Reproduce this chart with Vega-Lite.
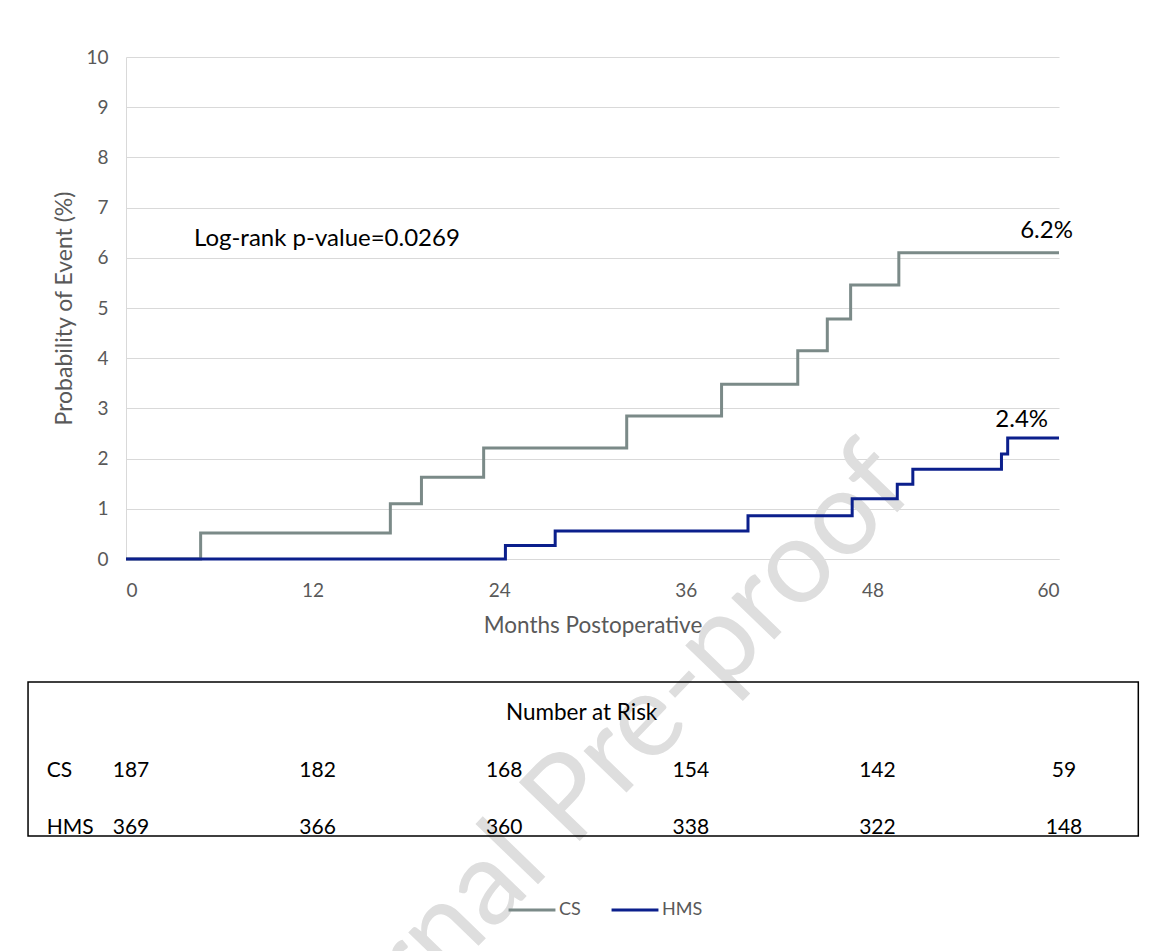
{
  "$schema": "https://vega.github.io/schema/vega-lite/v6.json",
  "padding": {"left": 27, "top": 48, "right": 10, "bottom": 10},
  "background": "white",
  "config": {
    "font": "Lato",
    "view": {"stroke": null},
    "axis": {"labelFont": "Lato", "titleFont": "Lato", "labelColor": "#595959", "titleColor": "#595959", "titleFontWeight": "normal"},
    "legend": {"labelFont": "Lato", "labelColor": "#595959"}
  },
  "bounds": "flush",
  "spacing": 123,
  "resolve": {"scale": {"x": "independent", "y": "independent"}},
  "vconcat": [
    {
      "width": 933,
      "height": 502,
      "layer": [
        {
          "data": {"values": [{"wm": "Journal Pre-proof"}]},
          "mark": {"type": "text", "align": "right", "baseline": "alphabetic", "angle": -46, "fontSize": 118, "color": "#dedede"},
          "encoding": {
            "x": {"datum": 50.9, "type": "quantitative"},
            "y": {"datum": 1.35, "type": "quantitative"},
            "text": {"field": "wm"}
          }
        },
        {
          "data": {"values": [
            {"group": "CS", "month": 0, "prob": 0},
            {"group": "CS", "month": 4.8, "prob": 0.52},
            {"group": "CS", "month": 17, "prob": 1.1},
            {"group": "CS", "month": 19, "prob": 1.63},
            {"group": "CS", "month": 23, "prob": 2.21},
            {"group": "CS", "month": 32.2, "prob": 2.85},
            {"group": "CS", "month": 38.3, "prob": 3.48},
            {"group": "CS", "month": 43.2, "prob": 4.15},
            {"group": "CS", "month": 45.1, "prob": 4.78},
            {"group": "CS", "month": 46.6, "prob": 5.46},
            {"group": "CS", "month": 49.7, "prob": 6.1},
            {"group": "CS", "month": 60, "prob": 6.1},
            {"group": "HMS", "month": 0, "prob": 0},
            {"group": "HMS", "month": 24.4, "prob": 0.27},
            {"group": "HMS", "month": 27.6, "prob": 0.56},
            {"group": "HMS", "month": 40, "prob": 0.86},
            {"group": "HMS", "month": 46.7, "prob": 1.2},
            {"group": "HMS", "month": 49.6, "prob": 1.49},
            {"group": "HMS", "month": 50.6, "prob": 1.79},
            {"group": "HMS", "month": 56.3, "prob": 2.09},
            {"group": "HMS", "month": 56.7, "prob": 2.41},
            {"group": "HMS", "month": 60, "prob": 2.41}
          ]},
          "mark": {"type": "line", "interpolate": "step-after", "strokeWidth": 3},
          "encoding": {
            "x": {
              "field": "month", "type": "quantitative",
              "scale": {"domain": [0, 60], "nice": false},
              "axis": {
                "values": [0, 12, 24, 36, 48, 60], "grid": false, "ticks": false,
                "domainColor": "#d9d9d9", "labelFontSize": 19, "labelPadding": 22,
                "title": "Months Postoperative", "titleFontSize": 22.5, "titlePadding": 14
              }
            },
            "y": {
              "field": "prob", "type": "quantitative",
              "scale": {"domain": [0, 10], "nice": false},
              "axis": {
                "values": [0, 1, 2, 3, 4, 5, 6, 7, 8, 9, 10], "grid": true, "gridColor": "#d9d9d9",
                "ticks": false, "domainColor": "#d9d9d9", "labelFontSize": 19, "labelPadding": 18,
                "title": "Probability of Event (%)", "titleFontSize": 23, "titlePadding": 9
              }
            },
            "color": {
              "field": "group", "type": "nominal",
              "scale": {"domain": ["CS", "HMS"], "range": ["#7b8a88", "#0b1f8c"]},
              "legend": {
                "title": null, "orient": "none", "legendX": 381, "legendY": 828, "direction": "horizontal",
                "symbolType": "stroke", "symbolStrokeWidth": 3, "symbolSize": 2200,
                "labelFontSize": 18, "labelOffset": 2, "columnPadding": 24
              }
            },
            "order": {"field": "month", "type": "quantitative"}
          }
        },
        {
          "data": {"values": [{"month": 4.37, "prob": 6.37, "label": "Log-rank p-value=0.0269"}]},
          "mark": {"type": "text", "align": "left", "baseline": "middle", "fontSize": 24, "color": "#000000"},
          "encoding": {
            "x": {"field": "month", "type": "quantitative"},
            "y": {"field": "prob", "type": "quantitative"},
            "text": {"field": "label"}
          }
        },
        {
          "data": {"values": [
            {"month": 59.2, "prob": 6.53, "label": "6.2%"},
            {"month": 57.6, "prob": 2.77, "label": "2.4%"}
          ]},
          "mark": {"type": "text", "align": "center", "baseline": "middle", "fontSize": 24, "color": "#000000"},
          "encoding": {
            "x": {"field": "month", "type": "quantitative"},
            "y": {"field": "prob", "type": "quantitative"},
            "text": {"field": "label"}
          }
        }
      ]
    },
    {
      "width": 933,
      "height": 154,
      "layer": [
        {
          "data": {"values": [{"box": "Number at Risk"}]},
          "mark": {"type": "rect", "fill": null, "stroke": "#000000", "strokeWidth": 1.5},
          "encoding": {
            "x": {"datum": -6.3, "type": "quantitative", "scale": {"domain": [0, 60], "nice": false}, "axis": null},
            "x2": {"datum": 65.1},
            "y": {"datum": -0.5, "type": "quantitative", "scale": {"domain": [-0.5, 2.17], "nice": false, "zero": false, "reverse": true}, "axis": null},
            "y2": {"datum": 2.17}
          }
        },
        {
          "data": {"values": [{"month": 29.3, "row": 0, "label": "Number at Risk"}]},
          "mark": {"type": "text", "align": "center", "baseline": "middle", "fontSize": 22.5, "color": "#000000", "dy": 2},
          "encoding": {
            "x": {"field": "month", "type": "quantitative"},
            "y": {"field": "row", "type": "quantitative"},
            "text": {"field": "label"}
          }
        },
        {
          "data": {"values": [
            {"month": -5.1, "row": 1, "label": "CS"},
            {"month": -5.1, "row": 2, "label": "HMS"}
          ]},
          "mark": {"type": "text", "align": "left", "baseline": "middle", "fontSize": 21, "color": "#000000", "dy": 2},
          "encoding": {
            "x": {"field": "month", "type": "quantitative"},
            "y": {"field": "row", "type": "quantitative"},
            "text": {"field": "label"}
          }
        },
        {
          "data": {"values": [
            {"group": "CS", "row": 1, "month": 0, "n": 187},
            {"group": "CS", "row": 1, "month": 12, "n": 182},
            {"group": "CS", "row": 1, "month": 24, "n": 168},
            {"group": "CS", "row": 1, "month": 36, "n": 154},
            {"group": "CS", "row": 1, "month": 48, "n": 142},
            {"group": "CS", "row": 1, "month": 60, "n": 59},
            {"group": "HMS", "row": 2, "month": 0, "n": 369},
            {"group": "HMS", "row": 2, "month": 12, "n": 366},
            {"group": "HMS", "row": 2, "month": 24, "n": 360},
            {"group": "HMS", "row": 2, "month": 36, "n": 338},
            {"group": "HMS", "row": 2, "month": 48, "n": 322},
            {"group": "HMS", "row": 2, "month": 60, "n": 148}
          ]},
          "mark": {"type": "text", "align": "center", "baseline": "middle", "fontSize": 21, "color": "#000000", "dx": 5, "dy": 2},
          "encoding": {
            "x": {"field": "month", "type": "quantitative"},
            "y": {"field": "row", "type": "quantitative"},
            "text": {"field": "n", "type": "quantitative"}
          }
        }
      ]
    }
  ]
}
